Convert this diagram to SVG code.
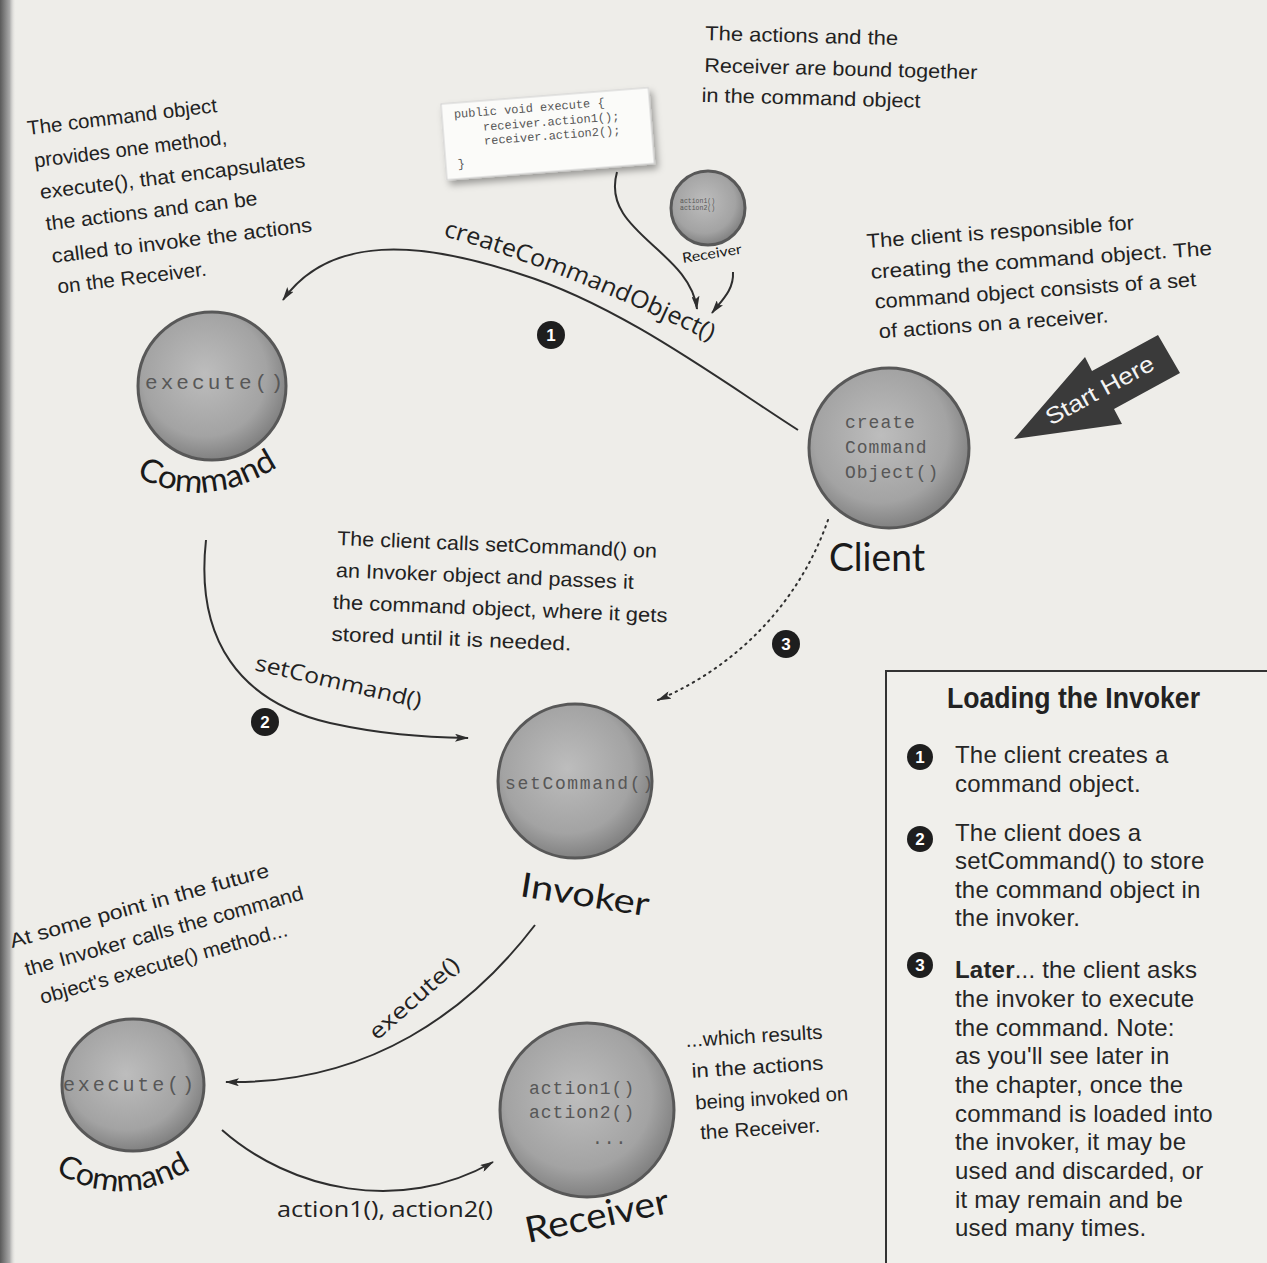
<svg xmlns="http://www.w3.org/2000/svg" width="1267" height="1263" viewBox="0 0 1267 1263">
<defs>
<style>
.hand{font-family:"Liberation Sans","DejaVu Sans",sans-serif;font-size:20px;fill:#222}
.lbl{font-family:"Open Sans","Liberation Sans",sans-serif;fill:#222}
.node{font-family:"Lato","Noto Sans",sans-serif;fill:#1a1a1a}
.mono{font-family:"Liberation Mono","DejaVu Sans Mono",monospace;fill:#575757}
.ball{fill:url(#ballg);stroke:#585858;stroke-width:3}
.conn{fill:none;stroke:#2e2e2e;stroke-width:2}
.panel{font-family:"Liberation Sans",Arial,sans-serif;font-size:24px;fill:#262626;letter-spacing:0.2px}
.badge{fill:#1e1e1e}
.bnum{font-family:"Liberation Sans",Arial,sans-serif;font-weight:bold;font-size:17px;fill:#fff;text-anchor:middle}
</style>
<radialGradient id="ballg" cx="0.45" cy="0.42" r="0.6">
<stop offset="0" stop-color="#bdbdbd"/>
<stop offset="0.7" stop-color="#a3a3a3"/>
<stop offset="1" stop-color="#7d7d7d"/>
</radialGradient>
<linearGradient id="edge" x1="0" x2="1" y1="0" y2="0">
<stop offset="0" stop-color="#5a5a5a"/>
<stop offset="0.6" stop-color="#a8a8a8"/>
<stop offset="1" stop-color="#eeede9" stop-opacity="0"/>
</linearGradient>
<filter id="shadow" x="-10%" y="-20%" width="130%" height="150%"><feDropShadow dx="3" dy="5" stdDeviation="3.5" flood-color="#000" flood-opacity="0.35"/></filter>
<marker id="arr" viewBox="0 0 14 8" refX="13" refY="4" markerWidth="14" markerHeight="8" markerUnits="userSpaceOnUse" orient="auto">
<path d="M0,0 L14,4 L0,8 L3,4 z" fill="#2e2e2e"/>
</marker>
<path id="cmdArc1" d="M 136,476 Q 207,514 282,464"/>
<path id="cmdArc2" d="M 55,1172 Q 126,1214 200,1164"/>
<path id="ccoArc" d="M 443,236 Q 560,268 716,344"/>
</defs>

<rect width="1267" height="1263" fill="#eeede9"/>
<rect x="0" y="0" width="16" height="1263" fill="url(#edge)"/>

<!-- annotations -->
<g id="note-command">
<g transform="rotate(-6.9 28 135)">
<text class="hand" x="28" y="135" textLength="191" lengthAdjust="spacingAndGlyphs">The command object</text>
<text class="hand" x="31" y="168" textLength="194" lengthAdjust="spacingAndGlyphs">provides one method,</text>
<text class="hand" x="33" y="200" textLength="267" lengthAdjust="spacingAndGlyphs">execute(), that encapsulates</text>
<text class="hand" x="35" y="232" textLength="213" lengthAdjust="spacingAndGlyphs">the actions and can be</text>
<text class="hand" x="37" y="265" textLength="262" lengthAdjust="spacingAndGlyphs">called to invoke the actions</text>
<text class="hand" x="39" y="296" textLength="150" lengthAdjust="spacingAndGlyphs">on the Receiver.</text>
</g>
</g>
<g id="note-bound" transform="rotate(1.5 705 40)">
<text class="hand" x="705" y="40" textLength="193" lengthAdjust="spacingAndGlyphs">The actions and the</text>
<text class="hand" x="705" y="72" textLength="273" lengthAdjust="spacingAndGlyphs">Receiver are bound together</text>
<text class="hand" x="703" y="102" textLength="219" lengthAdjust="spacingAndGlyphs">in the command object</text>
</g>
<g id="note-client" transform="rotate(-4 867 248)">
<text class="hand" x="867" y="248" textLength="268" lengthAdjust="spacingAndGlyphs">The client is responsible for</text>
<text class="hand" x="869" y="279" textLength="342" lengthAdjust="spacingAndGlyphs">creating the command object. The</text>
<text class="hand" x="871" y="309" textLength="322" lengthAdjust="spacingAndGlyphs">command object consists of a set</text>
<text class="hand" x="873" y="339" textLength="230" lengthAdjust="spacingAndGlyphs">of actions on a receiver.</text>
</g>
<g id="note-setcommand" transform="rotate(2.3 337 545)">
<text class="hand" x="337" y="545" textLength="320" lengthAdjust="spacingAndGlyphs">The client calls setCommand() on</text>
<text class="hand" x="337" y="577" textLength="298" lengthAdjust="spacingAndGlyphs">an Invoker object and passes it</text>
<text class="hand" x="335" y="609" textLength="335" lengthAdjust="spacingAndGlyphs">the command object, where it gets</text>
<text class="hand" x="335" y="641" textLength="240" lengthAdjust="spacingAndGlyphs">stored until it is needed.</text>
</g>
<g id="note-future" transform="rotate(-15.5 12 948)">
<text class="hand" x="12" y="948" textLength="268" lengthAdjust="spacingAndGlyphs">At some point in the future</text>
<text class="hand" x="19" y="979" textLength="288" lengthAdjust="spacingAndGlyphs">the Invoker calls the command</text>
<text class="hand" x="26" y="1010" textLength="256" lengthAdjust="spacingAndGlyphs">object's execute() method...</text>
</g>
<g id="note-results" transform="rotate(-3.5 686 1047)">
<text class="hand" x="686" y="1047" textLength="137" lengthAdjust="spacingAndGlyphs">...which results</text>
<text class="hand" x="690" y="1078" textLength="132" lengthAdjust="spacingAndGlyphs">in the actions</text>
<text class="hand" x="692" y="1110" textLength="153" lengthAdjust="spacingAndGlyphs">being invoked on</text>
<text class="hand" x="695" y="1140" textLength="120" lengthAdjust="spacingAndGlyphs">the Receiver.</text>
</g>

<!-- code box -->
<g id="code" transform="translate(441 104) rotate(-4.5)">
<rect x="0" y="0" width="208" height="76" fill="#fbfbf9" stroke="#cfcfcf" stroke-width="1" filter="url(#shadow)"/>
<text class="mono" x="12" y="15" font-size="12" fill="#666">public void execute {</text>
<text class="mono" x="40" y="30" font-size="12" fill="#666">receiver.action1();</text>
<text class="mono" x="40" y="44" font-size="12" fill="#666">receiver.action2();</text>
<text class="mono" x="12" y="65" font-size="12" fill="#666">}</text>
</g>

<!-- connectors -->
<g id="connectors">
<path class="conn" d="M 798,430 C 720,380 620,305 520,274 C 420,241 330,234 283,300" marker-end="url(#arr)"/>
<path class="conn" d="M 617,172 C 600,232 690,250 697,309" marker-end="url(#arr)"/>
<path class="conn" d="M 733,272 C 734,290 722,300 712,313" marker-end="url(#arr)"/>
<path class="conn" d="M 206,540 C 195,640 240,702 330,723 C 380,734 420,737 468,738" marker-end="url(#arr)"/>
<path class="conn" d="M 828,520 C 800,600 740,665 658,700" stroke-dasharray="1.5 5" stroke-linecap="round" stroke-width="2.6" marker-end="url(#arr)"/>
<path class="conn" d="M 535,925 C 470,1010 370,1085 226,1082" marker-end="url(#arr)"/>
<path class="conn" d="M 222,1130 C 290,1190 400,1215 493,1162" marker-end="url(#arr)"/>
<text class="lbl" font-size="24"><textPath href="#ccoArc" textLength="288" lengthAdjust="spacingAndGlyphs">createCommandObject()</textPath></text>
<text class="lbl" font-size="22" x="254" y="670" transform="rotate(13 254 670)" textLength="170" lengthAdjust="spacingAndGlyphs">setCommand()</text>
<text class="lbl" font-size="22" x="377" y="1041" transform="rotate(-41.5 377 1041)" textLength="112" lengthAdjust="spacingAndGlyphs">execute()</text>
<text class="lbl" font-size="22" x="277" y="1217" textLength="216" lengthAdjust="spacingAndGlyphs">action1(), action2()</text>
<circle class="badge" cx="551" cy="335" r="14"/><text class="bnum" x="551" y="341">1</text>
<circle class="badge" cx="265" cy="722" r="14"/><text class="bnum" x="265" y="728">2</text>
<circle class="badge" cx="786" cy="644" r="14"/><text class="bnum" x="786" y="650">3</text>
</g>

<!-- nodes -->
<g id="node-command-top">
<circle class="ball" cx="212" cy="386" r="74"/>
<text class="mono" x="145" y="389" font-size="21" textLength="138" lengthAdjust="spacing">execute()</text>
<text class="node" font-size="32"><textPath href="#cmdArc1" textLength="150" lengthAdjust="spacingAndGlyphs">Command</textPath></text>
</g>
<g id="node-receiver-small">
<circle class="ball" cx="708" cy="208" r="37" stroke-width="2"/>
<text class="mono" x="680" y="203" font-size="6.5">action1()</text>
<text class="mono" x="680" y="210" font-size="6.5">action2()</text>
<text class="node" x="683" y="263" font-size="14" transform="rotate(-9 683 263)" textLength="60" lengthAdjust="spacingAndGlyphs">Receiver</text>
</g>
<g id="node-client">
<circle class="ball" cx="889" cy="448" r="80"/>
<text class="mono" x="845" y="428" font-size="18" letter-spacing="1">create</text>
<text class="mono" x="845" y="453" font-size="18" letter-spacing="1">Command</text>
<text class="mono" x="845" y="478" font-size="18" letter-spacing="1">Object()</text>
<text class="node" x="829" y="571" font-size="38" textLength="96" lengthAdjust="spacingAndGlyphs">Client</text>
</g>
<g id="node-invoker">
<circle class="ball" cx="575" cy="781" r="77"/>
<text class="mono" x="505" y="789" font-size="18" textLength="148" lengthAdjust="spacing">setCommand()</text>
<text class="node" x="519" y="896" font-size="34" transform="rotate(9 519 896)" textLength="130" lengthAdjust="spacingAndGlyphs">Invoker</text>
</g>
<g id="node-command-bottom">
<ellipse class="ball" cx="133" cy="1085" rx="71" ry="66"/>
<text class="mono" x="63" y="1091" font-size="20" textLength="131" lengthAdjust="spacing">execute()</text>
<text class="node" font-size="31"><textPath href="#cmdArc2" textLength="144" lengthAdjust="spacingAndGlyphs">Command</textPath></text>
</g>
<g id="node-receiver">
<circle class="ball" cx="587" cy="1110" r="87"/>
<text class="mono" x="529" y="1094" font-size="18" letter-spacing="1">action1()</text>
<text class="mono" x="529" y="1118" font-size="18" letter-spacing="1">action2()</text>
<text class="mono" x="592" y="1144" font-size="18" letter-spacing="1">...</text>
<text class="node" x="528" y="1243" font-size="36" transform="rotate(-12 528 1243)" textLength="146" lengthAdjust="spacingAndGlyphs">Receiver</text>
</g>

<!-- start here -->
<g id="start-here">
<polygon points="1014,439 1085,357 1092,371 1158,335 1180,373 1114,409 1122,424" fill="#3a3a3a"/>
<text x="1100" y="398" transform="rotate(-28.6 1100 391)" text-anchor="middle" font-family="Liberation Sans, Arial, sans-serif" font-size="23" fill="#f4f4f4" textLength="120" lengthAdjust="spacingAndGlyphs">Start Here</text>
</g>

<!-- side panel -->
<g id="panel">
<rect x="886" y="671" width="400" height="620" fill="#f0efeb" stroke="#333" stroke-width="2"/>
<text x="947" y="708" font-family="Liberation Sans, Arial, sans-serif" font-weight="bold" font-size="30" fill="#222" textLength="253" lengthAdjust="spacingAndGlyphs">Loading the Invoker</text>
<circle class="badge" cx="920" cy="757" r="13"/><text class="bnum" x="920" y="763">1</text>
<text class="panel" x="955" y="763">The client creates a</text>
<text class="panel" x="955" y="792">command object.</text>
<circle class="badge" cx="920" cy="839" r="13"/><text class="bnum" x="920" y="845">2</text>
<text class="panel" x="955" y="841">The client does a</text>
<text class="panel" x="955" y="869">setCommand() to store</text>
<text class="panel" x="955" y="898">the command object in</text>
<text class="panel" x="955" y="926">the invoker.</text>
<circle class="badge" cx="920" cy="965" r="13"/><text class="bnum" x="920" y="971">3</text>
<text class="panel" x="955" y="978"><tspan font-weight="bold">Later</tspan>... the client asks</text>
<text class="panel" x="955" y="1007">the invoker to execute</text>
<text class="panel" x="955" y="1036">the command. Note:</text>
<text class="panel" x="955" y="1064">as you'll see later in</text>
<text class="panel" x="955" y="1093">the chapter, once the</text>
<text class="panel" x="955" y="1122">command is loaded into</text>
<text class="panel" x="955" y="1150">the invoker, it may be</text>
<text class="panel" x="955" y="1179">used and discarded, or</text>
<text class="panel" x="955" y="1208">it may remain and be</text>
<text class="panel" x="955" y="1236">used many times.</text>
</g>
</svg>
